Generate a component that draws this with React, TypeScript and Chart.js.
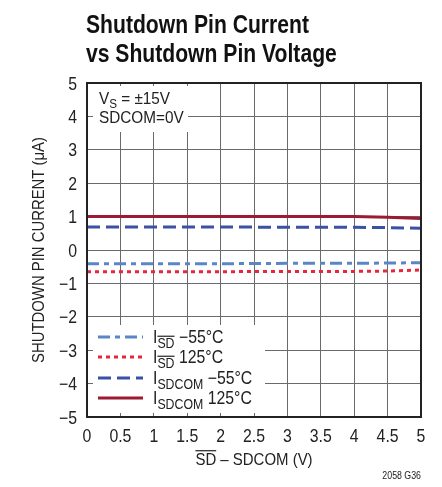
import React, { useEffect, useRef } from "react";
import { Chart, registerables } from "chart.js";

Chart.register(...registerables);

const xValues = [0, 1, 2, 3, 4, 4.5, 5];
const isdMinus55 = [-0.41, -0.41, -0.41, -0.4, -0.4, -0.39, -0.38];
const isd125 = [-0.65, -0.65, -0.65, -0.64, -0.64, -0.63, -0.6];
const isdcomMinus55 = [0.69, 0.69, 0.69, 0.68, 0.68, 0.67, 0.65];
const isdcom125 = [1.0, 1.0, 1.0, 1.0, 1.0, 0.98, 0.94];

const xTicks = [0, 0.5, 1, 1.5, 2, 2.5, 3, 3.5, 4, 4.5, 5];
const yTicks = [-5, -4, -3, -2, -1, 0, 1, 2, 3, 4, 5];

const FONT = '"Liberation Sans", Arial, sans-serif';
const SX = 0.88;

type Seg = { t: string; size: number; dy?: number; over?: boolean };

function txt(
  ctx: CanvasRenderingContext2D,
  s: string,
  x: number,
  y: number,
  size: number,
  sx = SX,
  align: "left" | "center" | "right" = "left",
  weight = "normal"
) {
  ctx.font = `${weight} ${size}px ${FONT}`;
  const w = ctx.measureText(s).width * sx;
  const x0 = align === "center" ? x - w / 2 : align === "right" ? x - w : x;
  ctx.save();
  ctx.translate(x0, y);
  ctx.scale(sx, 1);
  ctx.textAlign = "left";
  ctx.textBaseline = "alphabetic";
  ctx.fillText(s, 0, 0);
  ctx.restore();
  return w;
}

function richWidth(ctx: CanvasRenderingContext2D, segs: Seg[], sx = SX) {
  let w = 0;
  for (const s of segs) {
    ctx.font = `normal ${s.size}px ${FONT}`;
    w += ctx.measureText(s.t).width * sx;
  }
  return w;
}

function drawRich(ctx: CanvasRenderingContext2D, x: number, y: number, segs: Seg[], sx = SX) {
  let cx = x;
  for (const s of segs) {
    const yy = y + (s.dy || 0);
    const w = txt(ctx, s.t, cx, yy, s.size, sx);
    if (s.over) {
      ctx.save();
      ctx.strokeStyle = ctx.fillStyle as string;
      ctx.lineWidth = 1.2;
      ctx.beginPath();
      const oy = yy - s.size * 0.84;
      ctx.moveTo(cx, oy);
      ctx.lineTo(cx + w, oy);
      ctx.stroke();
      ctx.restore();
    }
    cx += w;
  }
  return cx - x;
}

const seriesStyles = [
  { label: "ISD −55°C", data: isdMinus55, color: "#5b86c6", dash: [12, 5, 5, 5] },
  { label: "ISD 125°C", data: isd125, color: "#e8253a", dash: [4, 4] },
  { label: "ISDCOM −55°C", data: isdcomMinus55, color: "#3a52a3", dash: [13, 6] },
  { label: "ISDCOM 125°C", data: isdcom125, color: "#9b1b30", dash: [] as number[] },
];

const legendText: Seg[][] = [
  [{ t: "I", size: 18 }, { t: "SD", size: 14, dy: 5, over: true }, { t: " −55°C", size: 18 }],
  [{ t: "I", size: 18 }, { t: "SD", size: 14, dy: 5, over: true }, { t: " 125°C", size: 18 }],
  [{ t: "I", size: 18 }, { t: "SDCOM", size: 14, dy: 5 }, { t: " −55°C", size: 18 }],
  [{ t: "I", size: 18 }, { t: "SDCOM", size: 14, dy: 5 }, { t: " 125°C", size: 18 }],
];

const overlayPlugin = {
  id: "overlay",
  beforeDatasetsDraw(chart: any) {
    const ctx = chart.ctx as CanvasRenderingContext2D;
    ctx.save();
    ctx.fillStyle = "#fff";
    ctx.fillRect(93, 86, 95, 46);
    ctx.fillRect(93, 325, 172, 88);
    ctx.restore();
  },
  afterDraw(chart: any) {
    const ctx = chart.ctx as CanvasRenderingContext2D;
    const a = chart.chartArea;
    const xs = chart.scales.x;
    const ys = chart.scales.y;
    ctx.save();
    // border
    ctx.strokeStyle = "#222";
    ctx.lineWidth = 2;
    ctx.strokeRect(a.left, a.top, a.right - a.left, a.bottom - a.top);

    // tick labels
    ctx.fillStyle = "#222";
    xTicks.forEach((v) => {
      txt(ctx, String(v), xs.getPixelForValue(v), 441.5, 18, SX, "center");
    });
    yTicks.forEach((v) => {
      txt(ctx, String(v).replace("-", "−"), 77, ys.getPixelForValue(v) + 6.5, 18, SX, "right");
    });

    // title
    ctx.fillStyle = "#111";
    ctx.font = `bold 25px ${FONT}`;
    const tsx = 223 / ctx.measureText("Shutdown Pin Current").width;
    txt(ctx, "Shutdown Pin Current", 86, 33, 25, tsx, "left", "bold");
    txt(ctx, "vs Shutdown Pin Voltage", 86, 62, 25, tsx, "left", "bold");

    // annotation
    ctx.fillStyle = "#222";
    drawRich(ctx, 99, 104, [
      { t: "V", size: 17 },
      { t: "S", size: 13, dy: 4 },
      { t: " = ±15V", size: 17 },
    ], 0.9);
    drawRich(ctx, 99, 123, [{ t: "SDCOM=0V", size: 17 }], 0.9);

    // legend
    const rows = [337, 357, 378, 398];
    seriesStyles.forEach((s, i) => {
      ctx.save();
      ctx.strokeStyle = s.color;
      ctx.lineWidth = 3;
      ctx.setLineDash(s.dash);
      ctx.beginPath();
      ctx.moveTo(98, rows[i]);
      ctx.lineTo(143, rows[i]);
      ctx.stroke();
      ctx.restore();
      ctx.fillStyle = "#222";
      drawRich(ctx, 153, rows[i] + 6, legendText[i]);
    });

    // x title
    const xt: Seg[] = [
      { t: "SD", size: 17, over: true },
      { t: " – SDCOM (V)", size: 17 },
    ];
    const w = richWidth(ctx, xt);
    drawRich(ctx, (a.left + a.right) / 2 - w / 2, 465, xt);

    // y title
    ctx.save();
    ctx.translate(43.5, (a.top + a.bottom) / 2);
    ctx.rotate(-Math.PI / 2);
    const ytl = "SHUTDOWN PIN CURRENT (μA)";
    ctx.font = `normal 16px ${FONT}`;
    const ysx = 226 / ctx.measureText(ytl).width;
    txt(ctx, ytl, 0, 0, 16, ysx, "center");
    ctx.restore();

    // figure id
    txt(ctx, "2058 G36", 421, 479, 10, SX, "right");
    ctx.restore();
  },
};

export default function App() {
  const ref = useRef<HTMLCanvasElement>(null);
  useEffect(() => {
    const canvas = ref.current!;
    const chart = new Chart(canvas, {
      type: "line",
      data: {
        datasets: seriesStyles.map((s) => ({
          label: s.label,
          data: xValues.map((x, i) => ({ x, y: s.data[i] })),
          borderColor: s.color,
          borderWidth: 3,
          borderDash: s.dash,
          pointRadius: 0,
          tension: 0,
          fill: false,
        })),
      },
      options: {
        responsive: false,
        animation: false,
        layout: { padding: { top: 83, right: 21, left: 0, bottom: 0 } },
        plugins: { legend: { display: false }, title: { display: false }, tooltip: { enabled: false } },
        scales: {
          x: {
            type: "linear",
            min: 0,
            max: 5,
            afterFit: (s: any) => {
              s.height = 70;
            },
            afterBuildTicks: (s: any) => {
              s.ticks = xTicks.map((v) => ({ value: v }));
            },
            ticks: { display: false },
            grid: { color: "#6a6a6a", lineWidth: 1, drawTicks: false },
            border: { display: false },
          },
          y: {
            type: "linear",
            min: -5,
            max: 5,
            afterFit: (s: any) => {
              s.width = 87;
            },
            afterBuildTicks: (s: any) => {
              s.ticks = yTicks.map((v) => ({ value: v }));
            },
            ticks: { display: false },
            grid: { color: "#6a6a6a", lineWidth: 1, drawTicks: false },
            border: { display: false },
          },
        },
      },
      plugins: [overlayPlugin],
    } as any);
    return () => chart.destroy();
  }, []);
  return (
    <div style={{ position: "absolute", left: 0, top: 0 }}>
      <canvas ref={ref} width={442} height={487} style={{ display: "block" }} />
    </div>
  );
}
